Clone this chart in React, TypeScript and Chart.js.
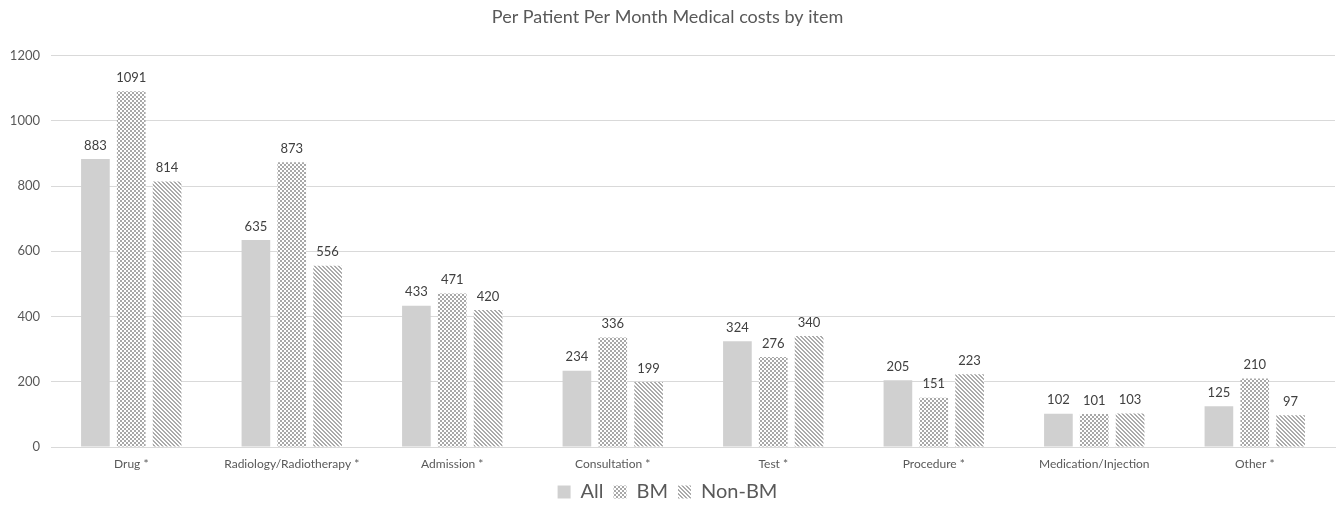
import React, { useEffect, useRef } from "react";
import { Chart, registerables } from "chart.js";

Chart.register(...registerables);

const categories = [
  "Drug *",
  "Radiology/Radiotherapy *",
  "Admission *",
  "Consultation *",
  "Test *",
  "Procedure *",
  "Medication/Injection",
  "Other *",
];
const allValues = [883, 635, 433, 234, 324, 205, 102, 125];
const bmValues = [1091, 873, 471, 336, 276, 151, 101, 210];
const nonBmValues = [814, 556, 420, 199, 340, 223, 103, 97];
const yTicks = [0, 200, 400, 600, 800, 1000, 1200];

const FONT = "Lato, 'Noto Sans', sans-serif";
const TEXT = "#595959";

function makeChecker(): CanvasPattern | string {
  const c = document.createElement("canvas");
  c.width = 4;
  c.height = 4;
  const ctx = c.getContext("2d");
  if (!ctx) return "#bbb";
  ctx.fillStyle = "#ffffff";
  ctx.fillRect(0, 0, 4, 4);
  ctx.fillStyle = "#a8a8a8";
  ctx.fillRect(0, 0, 2, 2);
  ctx.fillRect(2, 2, 2, 2);
  return ctx.createPattern(c, "repeat") || "#bbb";
}

function makeStripes(): CanvasPattern | string {
  const c = document.createElement("canvas");
  c.width = 4;
  c.height = 4;
  const ctx = c.getContext("2d");
  if (!ctx) return "#ccc";
  ctx.fillStyle = "#ffffff";
  ctx.fillRect(0, 0, 4, 4);
  ctx.fillStyle = "#ababab";
  for (let y = 0; y < 4; y++) {
    ctx.fillRect(y % 4, y, 1, 1);
    ctx.fillRect((y + 1) % 4, y, 1, 1);
  }
  return ctx.createPattern(c, "repeat") || "#ccc";
}

const valueLabels = {
  id: "valueLabels",
  afterDatasetsDraw(chart: any) {
    const ctx = chart.ctx;
    ctx.save();
    ctx.font = `13px ${FONT}`;
    ctx.fillStyle = "#404040";
    ctx.textAlign = "center";
    ctx.textBaseline = "bottom";
    chart.data.datasets.forEach((ds: any, i: number) => {
      const meta = chart.getDatasetMeta(i);
      meta.data.forEach((bar: any, j: number) => {
        ctx.fillText(String(ds.data[j]), bar.x, bar.y - 7);
      });
    });
    ctx.restore();
  },
};

const legendHeight = {
  id: "legendHeight",
  afterInit(chart: any) {
    const lg = chart.legend;
    if (!lg) return;
    const orig = lg.fit.bind(lg);
    lg.fit = function () {
      orig();
      lg.height = 36;
    };
  },
};

export default function App() {
  const ref = useRef<HTMLCanvasElement>(null);
  useEffect(() => {
    document.body.style.margin = "0";
    if (!ref.current) return;
    const chart = new Chart(ref.current, {
      type: "bar",
      data: {
        labels: categories,
        datasets: [
          { label: "All", data: allValues, backgroundColor: "#d0d0d0" },
          { label: "BM", data: bmValues, backgroundColor: makeChecker() as any },
          { label: "Non-BM", data: nonBmValues, backgroundColor: makeStripes() as any },
        ],
      },
      options: {
        animation: false,
        responsive: true,
        maintainAspectRatio: false,
        datasets: { bar: { categoryPercentage: 0.67, barPercentage: 0.8 } },
        layout: { padding: { left: 0, right: 4, top: 0, bottom: 0 } },
        plugins: {
          title: {
            display: true,
            text: "Per Patient Per Month Medical costs by item",
            color: TEXT,
            font: { family: FONT, size: 18, weight: "normal" },
            padding: { top: 6, bottom: 28 },
          },
          legend: {
            position: "bottom",
            labels: {
              color: TEXT,
              font: { family: FONT, size: 20 },
              boxWidth: 13,
              boxHeight: 13,
              padding: 10,
            },
          },
          tooltip: { enabled: false },
        },
        scales: {
          x: {
            afterFit: (s: any) => {
              s.height = 25;
            },
            grid: { display: false, drawTicks: false },
            border: { color: "#d9d9d9" },
            ticks: { color: TEXT, font: { family: FONT, size: 12 }, padding: 10, maxRotation: 0, autoSkip: false },
          },
          y: {
            min: 0,
            max: 1200,
            afterFit: (s: any) => {
              s.width = 51;
            },
            afterBuildTicks: (s: any) => {
              s.ticks = yTicks.map((v) => ({ value: v }));
            },
            grid: { color: "#d9d9d9", drawTicks: false },
            border: { display: false },
            ticks: {
              color: TEXT,
              font: { family: FONT, size: 13 },
              padding: 11,
              callback: (v: any) => String(v),
            },
          },
        },
      },
      plugins: [valueLabels, legendHeight],
    });
    return () => chart.destroy();
  }, []);
  return (
    <div style={{ width: "1339px", height: "508px", position: "relative" }}>
      <canvas ref={ref} />
    </div>
  );
}
